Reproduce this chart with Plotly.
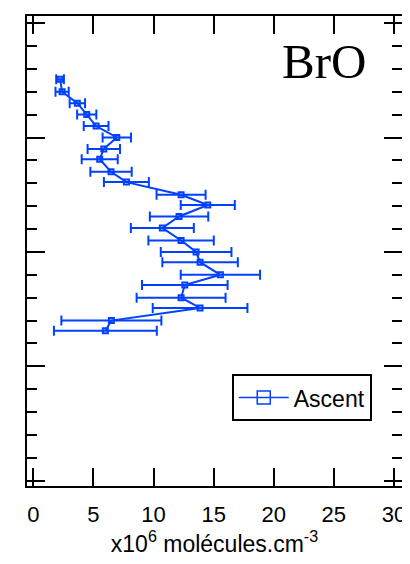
import plotly.graph_objects as go

# Data (BrO ascent profile)
conc = [2.22, 2.39, 3.66, 4.44, 5.22, 6.94, 5.86, 5.52, 6.46, 7.74, 12.29, 14.51,
        12.12, 10.73, 12.29, 13.54, 13.87, 15.56, 12.60, 12.29, 13.87, 6.49, 5.99]
alt = [17.55, 17.0, 16.5, 16.0, 15.5, 15.0, 14.5, 14.05, 13.5, 13.05, 12.5, 12.05,
       11.55, 11.05, 10.5, 10.0, 9.55, 9.0, 8.55, 8.0, 7.55, 7.0, 6.55]
err = [0.32, 0.55, 0.64, 0.80, 1.03, 1.18, 1.35, 1.50, 1.72, 1.87, 2.04, 2.25,
       2.43, 2.62, 2.72, 2.94, 3.14, 3.30, 3.56, 3.70, 3.94, 4.16, 4.28]
series_name = "Ascent"
x_ticks = [0, 5, 10, 15, 20, 25, 30]

BLUE = "rgb(0,64,255)"

fig = go.Figure()
fig.add_trace(go.Scatter(
    x=conc, y=alt, mode="lines+markers", showlegend=False,
    line=dict(color=BLUE, width=2),
    marker=dict(symbol="square-open", size=5, color=BLUE, line=dict(width=2, color=BLUE)),
    error_x=dict(type="data", array=err, visible=True, color=BLUE, thickness=2, width=5),
))
fig.add_trace(go.Scatter(
    x=[None], y=[None], mode="lines+markers", name=series_name,
    line=dict(color=BLUE, width=1.5),
    marker=dict(symbol="square-open", size=13, color=BLUE, line=dict(width=1.5, color=BLUE)),
))

axis_common = dict(
    showline=True, linecolor="black", linewidth=2, mirror="allticks",
    ticks="inside", tickcolor="black", tickwidth=2, ticklen=18,
    showgrid=False, zeroline=False, automargin=False,
)

fig.update_xaxes(
    range=[-0.53, 30.67], tickmode="array", tickvals=x_ticks,
    ticktext=[str(v) for v in x_ticks], ticklabelstandoff=8,
    tickfont=dict(family="Liberation Sans, Arial", size=22, color="black"),
    title=dict(text="x10<sup>6</sup> molécules.cm<sup>-3</sup>",
               font=dict(family="Liberation Sans, Arial", size=23, color="black"),
               standoff=4),
    **axis_common,
)
fig.update_yaxes(
    range=[-0.23, 20.31], tick0=0, dtick=5, showticklabels=False,
    minor=dict(dtick=1, tick0=0, ticks="inside", ticklen=10, tickwidth=2, tickcolor="black"),
    **axis_common,
)

fig.add_annotation(
    text="BrO", xref="paper", yref="paper", x=0.91, y=0.903,
    xanchor="right", yanchor="middle", showarrow=False,
    font=dict(family="Liberation Serif, Times New Roman", size=49, color="black"),
)

# page body adds an 8px offset; size the figure so the plot area lands where the reference has it
fig.update_layout(
    width=402, height=556,
    margin=dict(l=19, r=8, t=8, b=78),
    paper_bgcolor="white", plot_bgcolor="white",
    legend=dict(x=0.546, y=0.238, xanchor="left", yanchor="top",
                bordercolor="black", borderwidth=2, bgcolor="white", itemwidth=50,
                font=dict(family="Liberation Sans, Arial", size=23, color="black")),
)

fig.write_html("out.html")
